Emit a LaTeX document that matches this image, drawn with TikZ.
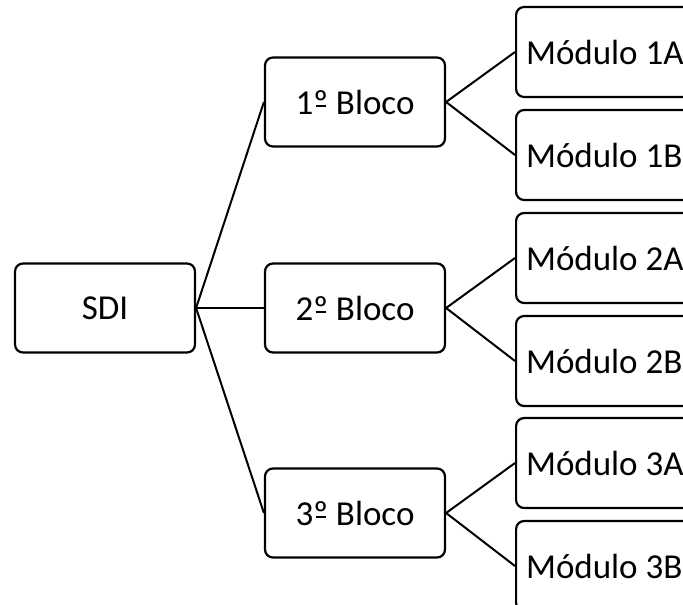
\documentclass[tikz,border=0pt]{standalone}
\usepackage{fontspec}
\setmainfont{Carlito}
\usetikzlibrary{positioning}

% ordinal sign with the bar under it
\newcommand{\ordbar}{{\setbox0\hbox{º}\rlap{º}%
  \hbox to \wd0{\hss\raisebox{0.2em}{\rule{0.7\wd0}{0.055em}}\hss}}}

\begin{document}
\begin{tikzpicture}
  [x=0.5pt,y=-0.5pt,
   blockN/.style={rectangle,draw,rounded corners=4pt,line width=1.1pt,
                  minimum width=90pt,minimum height=44.5pt,inner sep=0pt},
   modN/.style={rectangle,draw,rounded corners=4pt,line width=1.1pt,anchor=west,
                minimum height=45pt,inner xsep=5pt,inner ysep=0pt},
   font=\fontsize{17.5}{21}\selectfont,
   line width=1pt]

  \useasboundingbox (0,0) rectangle (683,604);
  \clip (0,0) rectangle (683,604);

  \node at (105,308) [blockN] (sdi) {SDI};

  \node at (355,102) [blockN] (bloco1) {1\ordbar{} Bloco};
  \node at (355,308) [blockN] (bloco2) {2\ordbar{} Bloco};
  \node at (355,513) [blockN] (bloco3) {3\ordbar{} Bloco};

  \node at (515,52)  [modN] (mod1a) {Módulo 1A};
  \node at (515,155) [modN] (mod1b) {Módulo 1B};
  \node at (515,258) [modN] (mod2a) {Módulo 2A};
  \node at (515,361) [modN] (mod2b) {Módulo 2B};
  \node at (515,463) [modN] (mod3a) {Módulo 3A};
  \node at (515,566) [modN] (mod3b) {Módulo 3B};

  \draw (sdi.east) -- (bloco1.west);
  \draw (sdi.east) -- (bloco2.west);
  \draw (sdi.east) -- (bloco3.west);

  \draw (bloco1.east) -- (mod1a.west);
  \draw (bloco1.east) -- (mod1b.west);
  \draw (bloco2.east) -- (mod2a.west);
  \draw (bloco2.east) -- (mod2b.west);
  \draw (bloco3.east) -- (mod3a.west);
  \draw (bloco3.east) -- (mod3b.west);
\end{tikzpicture}
\end{document}
